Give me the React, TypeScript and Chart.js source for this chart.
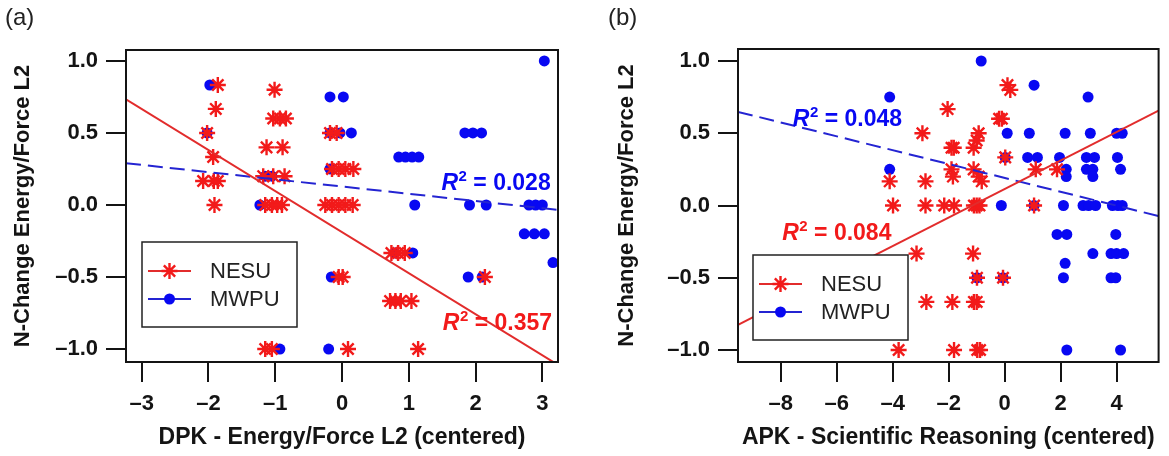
import React, { useEffect, useRef } from 'react';
import { Chart, registerables } from 'chart.js';

Chart.register(...registerables);

const FONT = '"Liberation Sans", Arial, Helvetica, sans-serif';
const RED = 'rgb(242,26,26)';
const RED_LINE = 'rgb(226,44,44)';
const BLUE = 'rgb(8,8,242)';
const BLUE_LINE = 'rgb(36,36,210)';
const INK = '#141414';

// ---------- tick values & labels ----------
const yTicks = [-1, -0.5, 0, 0.5, 1];
const yTickLabels = ['\u20131.0', '\u20130.5', '0.0', '0.5', '1.0'];
const xTicksA = [-3, -2, -1, 0, 1, 2, 3];
const xTickLabelsA = ['\u20133', '\u20132', '\u20131', '0', '1', '2', '3'];
const xTicksB = [-8, -6, -4, -2, 0, 2, 4];
const xTickLabelsB = ['\u20138', '\u20136', '\u20134', '\u20132', '0', '2', '4'];

// ---------- panel (a) data: [x, y] ----------
const nesuA: [number, number][] = [
  [-1.86, 0.833], [-1.01, 0.8], [-1.89, 0.667],
  [-1.03, 0.6], [-0.93, 0.6], [-0.84, 0.6],
  [-2.02, 0.5], [-0.18, 0.5], [-0.08, 0.5],
  [-1.13, 0.4], [-0.89, 0.4],
  [-1.93, 0.333],
  [-2.08, 0.167], [-1.92, 0.167], [-1.86, 0.167],
  [-1.18, 0.2], [-1.03, 0.2], [-0.86, 0.2],
  [-0.15, 0.25], [-0.05, 0.25], [0.05, 0.25], [0.17, 0.25],
  [-1.91, 0],
  [-1.15, 0], [-1.05, 0], [-0.97, 0], [-0.9, 0],
  [-0.25, 0], [-0.15, 0], [-0.05, 0], [0.05, 0], [0.16, 0],
  [-0.05, -0.5], [0.01, -0.5], [2.14, -0.5],
  [0.74, -0.333], [0.84, -0.333], [0.94, -0.333],
  [0.72, -0.667], [0.8, -0.667], [0.88, -0.667], [1.04, -0.667],
  [-1.15, -1], [-1.05, -1], [0.09, -1], [1.14, -1],
];
const mwpuA: [number, number][] = [
  [-1.98, 0.833], [-0.18, 0.75], [0.02, 0.75], [3.03, 1.0],
  [-2.02, 0.5], [-0.18, 0.5], [-0.03, 0.5], [0.14, 0.5],
  [1.84, 0.5], [1.96, 0.5], [2.09, 0.5],
  [0.85, 0.333], [0.95, 0.333], [1.05, 0.333], [1.15, 0.333],
  [-0.18, 0.25], [-1.15, 0.2], [-1.05, 0.2],
  [-1.23, 0], [1.09, 0], [1.91, 0], [2.16, 0], [2.8, 0], [2.9, 0], [3.0, 0],
  [2.73, -0.2], [2.88, -0.2], [3.03, -0.2], [3.16, -0.4],
  [0.79, -0.333], [1.06, -0.333],
  [-0.16, -0.5], [1.89, -0.5], [2.1, -0.5],
  [-0.93, -1], [-0.2, -1],
];
const fitNesuA: [number, number][] = [[-3.235, 0.734], [3.235, -1.11]];
const fitMwpuA: [number, number][] = [[-3.235, 0.29], [3.235, -0.034]];

// ---------- panel (b) data: [x, y] ----------
const nesuB: [number, number][] = [
  [0.1, 0.833], [0.2, 0.8], [-2.04, 0.667], [-0.2, 0.6], [-0.1, 0.6],
  [-2.94, 0.5], [-0.93, 0.5], [-1.0, 0.45],
  [-1.9, 0.4], [-1.82, 0.4], [-1.11, 0.4],
  [0.02, 0.333], [1.11, 0.25], [1.87, 0.25],
  [-1.9, 0.25], [-1.85, 0.2], [-1.11, 0.25], [-0.93, 0.2], [-0.82, 0.167],
  [-4.11, 0.167], [-2.83, 0.167],
  [-3.99, 0], [-2.83, 0], [-2.16, 0], [-1.81, 0], [-1.1, 0], [-1.0, 0], [-0.9, 0], [1.05, 0],
  [-3.15, -0.333], [-1.13, -0.333],
  [-0.99, -0.5], [-0.06, -0.5],
  [-2.8, -0.667], [-1.87, -0.667], [-1.1, -0.667], [-1.0, -0.667],
  [-3.79, -1], [-1.81, -1], [-0.98, -1], [-0.88, -1],
];
const mwpuB: [number, number][] = [
  [-4.11, 0.75], [-4.11, 0.25], [-0.84, 1.0], [1.05, 0.833], [2.98, 0.75],
  [0.09, 0.5], [0.88, 0.5], [2.16, 0.5], [3.06, 0.5], [4.0, 0.5], [4.2, 0.5],
  [0.02, 0.333], [0.82, 0.333], [1.17, 0.333], [1.96, 0.333], [2.92, 0.333], [3.21, 0.333], [4.03, 0.333],
  [2.2, 0.25], [2.2, 0.2], [2.92, 0.25], [3.15, 0.25], [3.15, 0.2], [4.14, 0.25],
  [-0.12, 0], [1.05, 0], [2.1, 0], [2.8, 0], [3.0, 0], [3.25, 0], [3.85, 0], [4.05, 0], [4.2, 0],
  [1.87, -0.2], [2.22, -0.2], [3.97, -0.2],
  [3.15, -0.333], [3.8, -0.333], [4.0, -0.333], [4.25, -0.333],
  [2.16, -0.4],
  [-0.99, -0.5], [-0.06, -0.5], [2.1, -0.5], [3.8, -0.5], [3.97, -0.5],
  [2.22, -1], [4.14, -1],
];
const fitNesuB: [number, number][] = [[-9.53, -0.826], [5.5, 0.657]];
const fitMwpuB: [number, number][] = [[-9.53, 0.648], [5.5, -0.073]];

const seriesNames = ['NESU', 'MWPU'];

type Ann = { x: number; y: number; text: string; color: string };
const annA: Ann[] = [
  { x: 1.49, y: 0.104, text: '0.028', color: BLUE },
  { x: 1.51, y: -0.868, text: '0.357', color: RED },
];
const annB: Ann[] = [
  { x: -7.57, y: 0.549, text: '0.048', color: BLUE },
  { x: -7.95, y: -0.236, text: '0.084', color: RED },
];

type PanelCfg = {
  nesu: [number, number][];
  mwpu: [number, number][];
  fitNesu: [number, number][];
  fitMwpu: [number, number][];
  xMin: number; xMax: number; yMin: number; yMax: number;
  xTicks: number[]; xTickLabels: string[];
  xTitle: string;
  yWidth: number;
  yTitlePad: number;
  padTop: number; padRight: number;
  legendDx: number; legendDy: number;
  ann: Ann[];
};

const STAR_R = 8;
const STAR_W = 2.4;
const DOT_R = 5.5;

const toPts = (arr: [number, number][]) => arr.map(([x, y]) => ({ x, y }));

function drawStar(ctx: CanvasRenderingContext2D, x: number, y: number, r: number) {
  ctx.beginPath();
  for (let k = 0; k < 4; k++) {
    const a = (k * Math.PI) / 4;
    ctx.moveTo(x - Math.cos(a) * r, y - Math.sin(a) * r);
    ctx.lineTo(x + Math.cos(a) * r, y + Math.sin(a) * r);
  }
  ctx.stroke();
}

function overlayPlugin(cfg: PanelCfg) {
  return {
    id: 'overlay',
    afterDatasetsDraw(chart: any) {
      const { ctx, chartArea: a, scales } = chart;
      ctx.save();
      // R^2 annotations
      for (const an of cfg.ann) {
        const px = scales.x.getPixelForValue(an.x);
        const py = scales.y.getPixelForValue(an.y);
        ctx.fillStyle = an.color;
        ctx.textBaseline = 'alphabetic';
        ctx.textAlign = 'left';
        ctx.font = `italic bold 23px ${FONT}`;
        ctx.fillText('R', px, py);
        let w = ctx.measureText('R').width;
        ctx.font = `bold 15px ${FONT}`;
        ctx.fillText('2', px + w + 0.5, py - 9);
        w += ctx.measureText('2').width + 0.5;
        ctx.font = `bold 23px ${FONT}`;
        ctx.fillText(' = ' + an.text, px + w, py);
      }
      // legend
      const bx = a.left + cfg.legendDx;
      const by = a.top + cfg.legendDy;
      const bw = 155, bh = 85;
      ctx.fillStyle = '#ffffff';
      ctx.fillRect(bx, by, bw, bh);
      ctx.strokeStyle = '#222';
      ctx.lineWidth = 1.5;
      ctx.strokeRect(bx, by, bw, bh);
      const rows = [
        { y: by + 29, color: RED, line: RED_LINE, star: true, label: seriesNames[0] },
        { y: by + 57, color: BLUE, line: BLUE_LINE, star: false, label: seriesNames[1] },
      ];
      for (const r of rows) {
        ctx.strokeStyle = r.line;
        ctx.lineWidth = 2;
        ctx.beginPath();
        ctx.moveTo(bx + 6, r.y);
        ctx.lineTo(bx + 49, r.y);
        ctx.stroke();
        if (r.star) {
          ctx.strokeStyle = r.color;
          ctx.lineWidth = STAR_W;
          drawStar(ctx, bx + 27.5, r.y, STAR_R);
        } else {
          ctx.fillStyle = r.color;
          ctx.beginPath();
          ctx.arc(bx + 27.5, r.y, DOT_R, 0, Math.PI * 2);
          ctx.fill();
        }
        ctx.fillStyle = '#222';
        ctx.font = `22px ${FONT}`;
        ctx.textBaseline = 'middle';
        ctx.fillText(r.label, bx + 68, r.y + 1);
      }
      // frame
      ctx.strokeStyle = INK;
      ctx.lineWidth = 2;
      ctx.strokeRect(a.left, a.top, a.right - a.left, a.bottom - a.top);
      ctx.restore();
    },
  };
}

function buildConfig(cfg: PanelCfg): any {
  const tickFont = { family: FONT, size: 22, weight: 'bold' as const };
  const grid = {
    drawOnChartArea: false,
    drawTicks: true,
    tickLength: 20,
    tickWidth: 2,
    tickColor: INK,
    lineWidth: 2,
    color: INK,
  };
  return {
    type: 'scatter',
    data: {
      datasets: [
        {
          type: 'line',
          data: toPts(cfg.fitNesu),
          borderColor: RED_LINE,
          borderWidth: 2,
          pointRadius: 0,
          fill: false,
          order: 0,
        },
        {
          type: 'line',
          data: toPts(cfg.fitMwpu),
          borderColor: BLUE_LINE,
          borderWidth: 2,
          borderDash: [15, 7],
          pointRadius: 0,
          fill: false,
          order: 0,
        },
        {
          label: seriesNames[0],
          data: toPts(cfg.nesu),
          pointStyle: 'star',
          pointRadius: STAR_R,
          borderColor: RED,
          backgroundColor: RED,
          borderWidth: STAR_W,
          order: 1,
        },
        {
          label: seriesNames[1],
          data: toPts(cfg.mwpu),
          pointStyle: 'circle',
          pointRadius: DOT_R,
          backgroundColor: BLUE,
          borderColor: BLUE,
          borderWidth: 0,
          order: 2,
        },
      ],
    },
    options: {
      animation: false,
      responsive: false,
      devicePixelRatio: 1,
      events: [],
      layout: { padding: { top: cfg.padTop, right: cfg.padRight, left: 0, bottom: 0 } },
      plugins: { legend: { display: false }, tooltip: { enabled: false }, title: { display: false } },
      scales: {
        x: {
          type: 'linear',
          min: cfg.xMin,
          max: cfg.xMax,
          afterBuildTicks: (s: any) => { s.ticks = cfg.xTicks.map((v) => ({ value: v })); },
          afterFit: (s: any) => { s.height = 94; },
          ticks: {
            callback: (_v: any, i: number) => cfg.xTickLabels[i],
            font: tickFont,
            color: INK,
            padding: 9,
            autoSkip: false,
            maxRotation: 0,
          },
          grid,
          border: { display: false },
          title: {
            display: true,
            text: cfg.xTitle,
            color: INK,
            font: { family: FONT, size: 23, weight: 'bold' },
            padding: { top: 0, bottom: 5 },
          },
        },
        y: {
          type: 'linear',
          min: cfg.yMin,
          max: cfg.yMax,
          afterBuildTicks: (s: any) => { s.ticks = yTicks.map((v) => ({ value: v })); },
          afterFit: (s: any) => { s.width = cfg.yWidth; },
          ticks: {
            callback: (_v: any, i: number) => yTickLabels[i],
            font: tickFont,
            color: INK,
            padding: 8,
            autoSkip: false,
          },
          grid,
          border: { display: false },
          title: {
            display: true,
            text: 'N-Change Energy/Force L2',
            color: INK,
            font: { family: FONT, size: 22, weight: 'bold' },
            padding: { top: cfg.yTitlePad, bottom: 0 },
          },
        },
      },
    },
    plugins: [overlayPlugin(cfg)],
  };
}

const cfgA: PanelCfg = {
  nesu: nesuA, mwpu: mwpuA, fitNesu: fitNesuA, fitMwpu: fitMwpuA,
  xMin: -3.235, xMax: 3.235, yMin: -1.09, yMax: 1.076,
  xTicks: xTicksA, xTickLabels: xTickLabelsA,
  xTitle: 'DPK - Energy/Force L2 (centered)',
  yWidth: 126, yTitlePad: 10,
  padTop: 50, padRight: 22,
  legendDx: 16, legendDy: 192,
  ann: annA,
};

const cfgB: PanelCfg = {
  nesu: nesuB, mwpu: mwpuB, fitNesu: fitNesuB, fitMwpu: fitMwpuB,
  xMin: -9.53, xMax: 5.5, yMin: -1.083, yMax: 1.083,
  xTicks: xTicksB, xTickLabels: xTickLabelsB,
  xTitle: 'APK - Scientific Reasoning (centered)',
  yWidth: 158, yTitlePad: 34,
  padTop: 49, padRight: 2,
  legendDx: 15, legendDy: 206,
  ann: annB,
};

function Panel({ cfg, left, width }: { cfg: PanelCfg; left: number; width: number }) {
  const ref = useRef<HTMLCanvasElement>(null);
  useEffect(() => {
    const chart = new Chart(ref.current as HTMLCanvasElement, buildConfig(cfg));
    return () => chart.destroy();
  }, [cfg]);
  return (
    <canvas
      ref={ref}
      width={width}
      height={456}
      style={{ position: 'absolute', left, top: 0, width, height: 456 }}
    />
  );
}

const panelLabel: React.CSSProperties = {
  position: 'absolute',
  top: 3,
  fontFamily: FONT,
  fontSize: 24,
  lineHeight: '28px',
  color: '#222',
};

export default function App() {
  return (
    <div
      style={{
        position: 'fixed',
        left: 0,
        top: 0,
        width: 1169,
        height: 456,
        background: '#fff',
        overflow: 'hidden',
      }}
    >
      <Panel cfg={cfgA} left={0} width={580} />
      <Panel cfg={cfgB} left={580} width={589} />
      <div style={{ ...panelLabel, left: 5 }}>(a)</div>
      <div style={{ ...panelLabel, left: 608 }}>(b)</div>
    </div>
  );
}
